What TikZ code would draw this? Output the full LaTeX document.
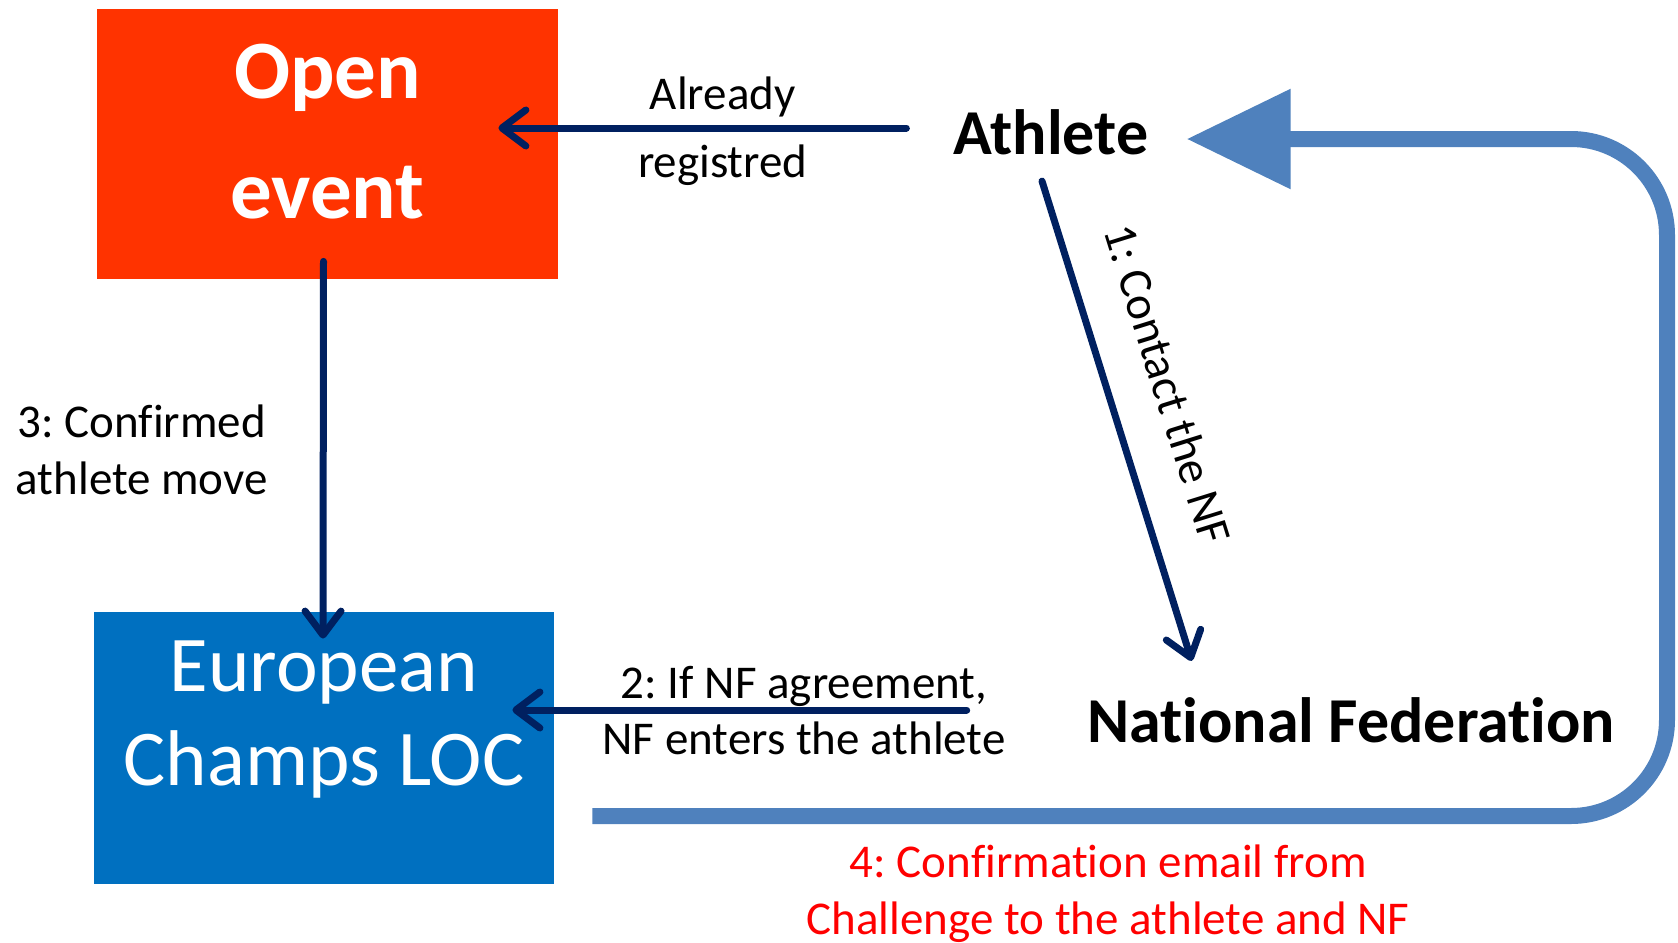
\documentclass[tikz,border=0pt]{standalone}
\usepackage{fontspec}
\setmainfont{Carlito}[Ligatures={NoCommon}]
\usetikzlibrary{positioning, arrows.meta}

\definecolor{oeorange}{HTML}{FF3300}
\definecolor{locblue}{HTML}{0070C0}
\definecolor{navy}{HTML}{002060}
\definecolor{loopblue}{HTML}{4F81BD}
\frenchspacing

\begin{document}
\begin{tikzpicture}[x=0.5pt, y=-0.5pt,
		box/.style={rectangle, inner sep=0pt},
		boxtext/.style={align=center, text=white, inner sep=0pt},
		who/.style={font=\fontsize{32}{38}\selectfont\bfseries, inner sep=0pt},
		lbl/.style={font=\fontsize{23.5}{28.5}\selectfont, inner sep=0pt},
		link/.style={draw=navy, line width=3.5pt, line cap=round, -{Straight Barb[length=12pt, width=18pt, round]}},
		loop/.style={draw=loopblue, line width=8pt, rounded corners=48pt, -{Triangle[length=52pt, width=48pt]}}]
		\useasboundingbox (0,0) rectangle (1678,943);

		\node[box, fill=oeorange, minimum width=230.5pt, minimum height=135pt] (open) at (327.5,144) {};
		\node[boxtext, font=\fontsize{41.5}{60}\selectfont\bfseries] (opentxt) at ([yshift=6pt]open.center) {Open\\event};
		\node[box, fill=locblue, minimum width=230pt, minimum height=136pt] (loc) at (324,748) {};
		\node[boxtext, font=\fontsize{39.5}{47}\selectfont] (loctxt) at ([yshift=14pt]loc.center) {European\\Champs LOC};
		\node[who] (athlete) at (1051,132) {Athlete};
		\node[who] (nf) at (1351,720) {National Federation};
		\coordinate (rim) at (1667,480);

		\draw[link] ([shift={(-23.5pt,2pt)}]athlete.west) -- node[lbl, pos=.45, anchor=base, yshift=9.5pt] (already) {Already} node[lbl, pos=.45, anchor=base, yshift=-24.5pt] (registred) {registred} ([shift={(-30pt,8pt)}]open.east);
		\draw[link] ([shift={(-2pt,9pt)}]open.south) -- node[lbl, midway, left=26pt, align=center] (confirmed) {3: Confirmed\\athlete move} ([shift={(-0.5pt,-13.5pt)}]loc.north);
		\draw[link] ([shift={(-4.5pt,-13pt)}]athlete.south) -- node[lbl, sloped, pos=.46, above=20pt] (contact) {1: Contact the NF} ([shift={(52.5pt,18pt)}]nf.north west);
		\draw[link] ([shift={(-60pt,5pt)}]nf.west) -- node[lbl, pos=.358, anchor=base, yshift=6pt] (agree) {2: If NF agreement,} node[lbl, pos=.358, anchor=base, yshift=-22pt] (enters) {NF enters the athlete} ([shift={(-21pt,19pt)}]loc.east);
		\draw[loop] ([shift={(19pt,-34pt)}]loc.east) -| node[lbl, pos=.24, below=10.5pt, align=center, text=red] (mail) {4: Confirmation email from\\Challenge to the athlete and NF} (rim) |- ([shift={(19pt,-3.5pt)}]athlete.east);
	\end{tikzpicture}
\end{document}
